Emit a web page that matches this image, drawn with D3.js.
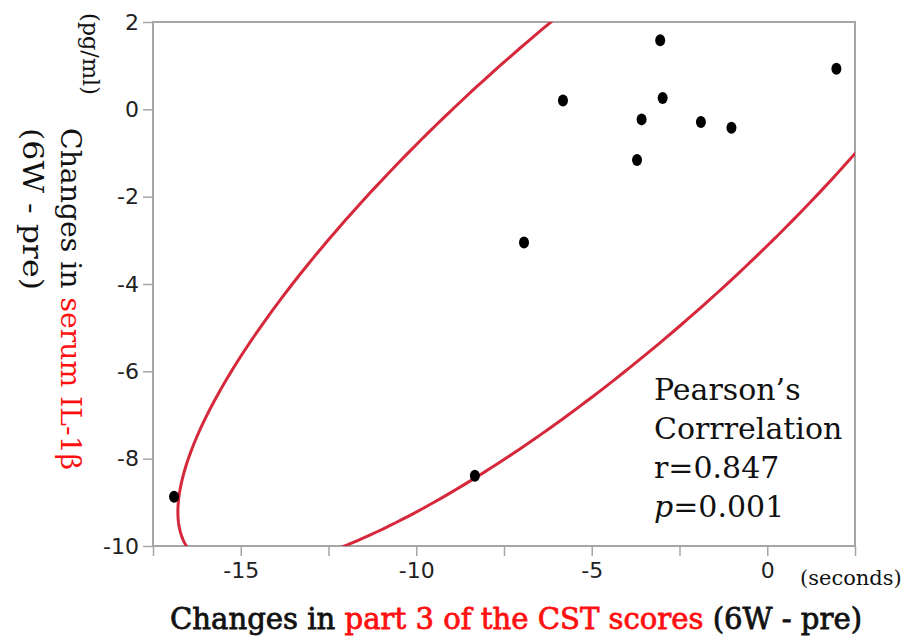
<!DOCTYPE html>
<html>
<head>
<meta charset="utf-8">
<script src="https://cdn.jsdelivr.net/npm/d3@7"></script>
<style>
  body { margin: 0; background: #fff; }
  svg { display: block; }
</style>
</head>
<body>
<div id="container"></div>
<script>
// values
var cstChange = [-3.05, 1.97, -5.82, -2.98, -3.58, -1.89, -1.02, -3.71, -6.93, -16.9, -8.33],
    il1bChange = [1.58, 0.93, 0.20, 0.26, -0.23, -0.29, -0.42, -1.16, -3.05, -8.87, -8.39];

var yTicks = [2, 0, -2, -4, -6, -8, -10],
    xTicks = [-17.5, -15, -12.5, -10, -7.5, -5, -2.5, 0, 2.5],
    xLabels = [-15, -10, -5, 0];

var statLines = ["Pearson\u2019s", "Corrrelation", "r=0.847", "=0.001"];

var svg_width = 906, svg_height = 643;
var plotL = 153, plotR = 855, plotT = 22, plotB = 546;

var red = "#ff1010", ellipseColor = "#d6283b", frameColor = "#a6a6a6";

var x = d3.scaleLinear().domain([-17.5, 2.5]).range([plotL, plotR]);
var y = d3.scaleLinear().domain([-10, 2]).range([plotB, plotT]);

var svg = d3.select("#container").append("svg")
    .attr("width", svg_width)
    .attr("height", svg_height);

svg.append("defs").append("clipPath").attr("id", "plot")
    .append("rect")
    .attr("x", plotL).attr("y", plotT)
    .attr("width", plotR - plotL).attr("height", plotB - plotT);

// axes (plain hyphen for negatives, like the original)
var xAxis = d3.axisBottom(x).tickValues(xTicks).tickSize(10).tickPadding(6)
    .tickFormat(function(d) { return xLabels.indexOf(d) >= 0 ? String(d) : ""; });
var yAxis = d3.axisLeft(y).tickValues(yTicks).tickSize(10).tickPadding(4)
    .tickFormat(function(d) { return String(d); });

var gx = svg.append("g").attr("transform", "translate(0," + plotB + ")").call(xAxis);
var gy = svg.append("g").attr("transform", "translate(" + plotL + ",0)").call(yAxis);

[gx, gy].forEach(function(g) {
  g.select(".domain").remove();
  g.selectAll(".tick line").attr("stroke", frameColor).attr("stroke-width", 1.5);
  g.selectAll(".tick text")
    .attr("fill", "#222")
    .style("font-family", "'DejaVu Sans', Verdana, sans-serif")
    .style("font-size", "22px");
});

// frame
svg.append("rect")
    .attr("x", plotL).attr("y", plotT)
    .attr("width", plotR - plotL).attr("height", plotB - plotT)
    .attr("fill", "none")
    .attr("stroke", frameColor)
    .attr("stroke-width", 2);

// 95% density ellipse from the points
var mx = d3.mean(cstChange), my = d3.mean(il1bChange);
var sxx = d3.variance(cstChange), syy = d3.variance(il1bChange);
var sxy = d3.sum(cstChange, function(v, i) { return (v - mx) * (il1bChange[i] - my); }) / (cstChange.length - 1);
var chi = 5.991;
var l11 = Math.sqrt(sxx), l21 = sxy / l11, l22 = Math.sqrt(syy - l21 * l21);
var ring = d3.range(0, 361).map(function(a) {
  var t = a * Math.PI / 180, u = Math.cos(t) * Math.sqrt(chi), v = Math.sin(t) * Math.sqrt(chi);
  return [mx + l11 * u, my + l21 * u + l22 * v];
});

svg.append("path")
    .datum(ring)
    .attr("clip-path", "url(#plot)")
    .attr("fill", "none")
    .attr("stroke", ellipseColor)
    .attr("stroke-width", 3)
    .attr("d", d3.line().x(function(d) { return x(d[0]); }).y(function(d) { return y(d[1]); }));

// points
svg.selectAll(".dot")
    .data(cstChange)
    .enter().append("ellipse")
    .attr("class", "dot")
    .attr("cx", function(d) { return x(d); })
    .attr("cy", function(d, i) { return y(il1bChange[i]); })
    .attr("rx", 5)
    .attr("ry", 6)
    .attr("fill", "#000");

// stats text
var serif = "'DejaVu Serif', 'Liberation Serif', serif";
var stats = svg.append("g")
    .style("font-family", serif)
    .style("font-size", "30px")
    .attr("fill", "#111");
var baselines = [400, 439, 478, 517];
statLines.forEach(function(s, i) {
  var t = stats.append("text").attr("x", 654).attr("y", baselines[i]);
  if (i == 3) t.append("tspan").style("font-style", "italic").text("p");
  t.append("tspan").text(s);
});

// units
svg.append("text")
    .attr("x", 800).attr("y", 585)
    .style("font-family", serif).style("font-size", "21px")
    .attr("fill", "#111")
    .text("(seconds)");

// x title (semi-bold look: regular weight plus a thin outline)
var xt = svg.append("text")
    .attr("x", 170).attr("y", 629)
    .attr("textLength", 692).attr("lengthAdjust", "spacingAndGlyphs")
    .style("font-family", serif).style("font-size", "30px")
    .attr("fill", "#111")
    .attr("stroke", "#111")
    .attr("stroke-width", 0.8);
xt.append("tspan").text("Changes in ");
xt.append("tspan").attr("fill", red).attr("stroke", red).text("part 3 of the CST scores");
xt.append("tspan").text(" (6W - pre)");

// y titles (rotated, reading downward)
function vtext(xPos, yPos, size, len) {
  return svg.append("text")
      .attr("transform", "translate(" + xPos + "," + yPos + ") rotate(90)")
      .attr("textLength", len).attr("lengthAdjust", "spacingAndGlyphs")
      .style("font-family", serif).style("font-size", size + "px")
      .attr("fill", "#111");
}
vtext(83, 13, 22, 82).text("(pg/ml)");
var yt = vtext(61, 128, 28, 342);
yt.append("tspan").text("Changes in ");
yt.append("tspan").attr("fill", red).text("serum IL-1\u03b2");
vtext(23, 128, 28, 162).text("(6W - pre)");
</script>
</body>
</html>
